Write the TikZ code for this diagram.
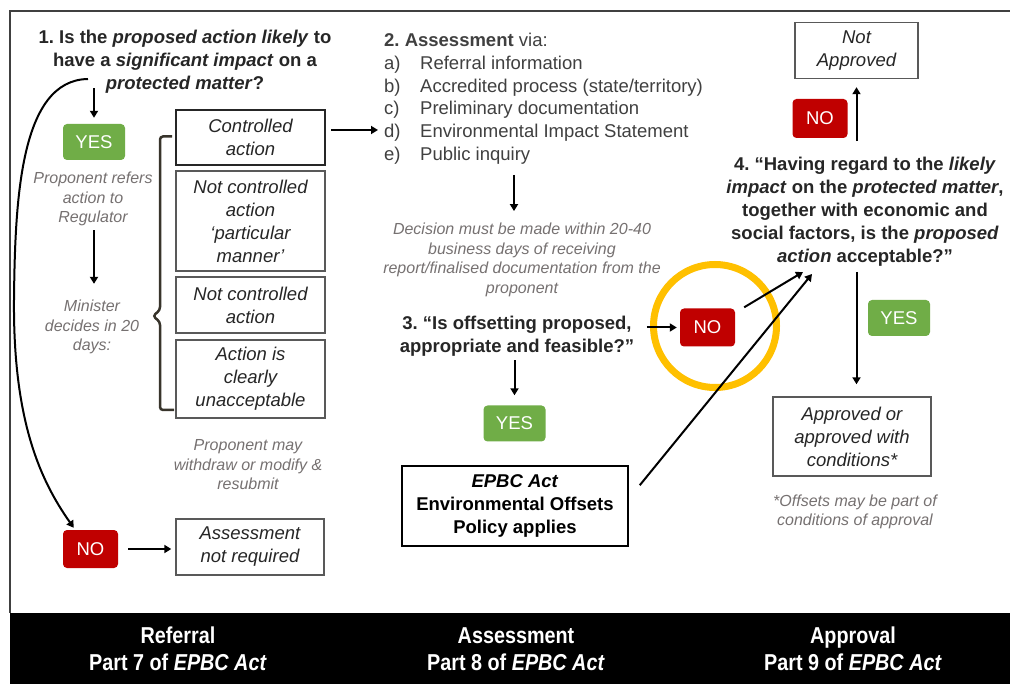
\documentclass[tikz,border=0pt]{standalone}
\usepackage{fontspec}
\setmainfont{Liberation Sans}
\newfontfamily\bandfont[FakeStretch=0.86]{Liberation Sans}
\usetikzlibrary{arrows.meta,calc}
\definecolor{ygreen}{HTML}{70AD47}
\definecolor{nred}{HTML}{C00000}
\definecolor{ringc}{HTML}{FFC000}
\definecolor{notegrey}{HTML}{767171}
\definecolor{txt}{HTML}{262626}
\definecolor{listgrey}{HTML}{404040}
\definecolor{boxline}{HTML}{595959}
\newcommand\FBig{\fontsize{18.5}{23}\selectfont}
\newcommand\FList{\fontsize{18.5}{22.7}\selectfont}
\newcommand\FNote{\fontsize{16}{19.5}\selectfont}
\newcommand\FBand{\fontsize{23}{27}\selectfont}
\frenchspacing
\begin{document}
\begin{tikzpicture}[x=1pt,y=-1pt,
  arr/.style={draw=black, line width=2pt, -{Triangle[length=7pt,width=8pt]}},
  box/.style={draw=boxline, line width=1.4pt, fill=white, align=center, text=txt, font=\FBig\itshape, inner sep=0pt},
  yesbox/.style={fill=ygreen, rounded corners=4pt, text=white, font=\FBig, minimum width=62pt, minimum height=36pt, inner sep=0pt},
  nobox/.style={yesbox, fill=nred, minimum width=55pt, minimum height=38pt},
  note/.style={text=notegrey, font=\FNote\itshape, align=center, inner sep=0pt},
  qtext/.style={text=txt, font=\FBig\bfseries, align=center, inner sep=0pt},
  band/.style={text=white, font=\FBand\bandfont\bfseries, align=center, inner sep=0pt},
]
\path[use as bounding box] (0,0) rectangle (1010,684);
\fill[white] (0,0) rectangle (1010,684);
% frame and band
\draw[line width=1.5pt, draw=black!75] (1010,11) -- (10,11) -- (10,613);
\fill[black] (10,613) rectangle (1010,684);
\node[band] (b1) at (178,649) {Referral\\Part 7 of \textit{EPBC Act}};
\node[band] (b2) at (516,649) {Assessment\\Part 8 of \textit{EPBC Act}};
\node[band] (b3) at (853,649) {Approval\\Part 9 of \textit{EPBC Act}};

% ---- column 1: referral
\node[qtext] (q1) at (185,61.5) {1. Is the \textit{proposed action likely} to\\have a \textit{significant impact} on a\\\textit{protected matter}?};
\node[yesbox] (yes1) at (94,142) {YES};
\node[note] (pref) at (93,199) {Proponent refers\\action to\\Regulator};
\node[note] (mini) at (92,327) {Minister\\decides in 20\\days:};
\node[box, draw=txt, line width=2pt, minimum width=149pt, minimum height=55pt] (ca) at (250.5,137.5) {Controlled\\action};
\node[box, minimum width=149pt, minimum height=100pt] (ncpm) at (250.5,221) {Not controlled\\action\\‘particular\\manner’};
\node[box, minimum width=149pt, minimum height=56pt] (nc) at (250.5,305) {Not controlled\\action};
\node[box, minimum width=149pt, minimum height=78pt] (unacc) at (250.5,379) {Action is\\clearly\\unacceptable};
\node[note] (withdraw) at (248,465) {Proponent may\\withdraw or modify \&\\resubmit};
\node[nobox] (no1) at (90.5,549) {NO};
\node[box, minimum width=148pt, minimum height=56pt] (anr) at (250,547) {Assessment\\not required};

\draw[arr] ($(yes1.north |- q1.south)+(0,-5)$) -- ($(yes1.north)+(0,-6)$);
\draw[arr] ($(pref.south -| yes1.south)+(0,4)$) -- ($(mini.north -| yes1.south)+(0,-16)$);
\draw[line width=2.5pt, draw=black!80!olive, rounded corners=3pt]
  (ca.west) ++(-3,-1) -- (160,136.5) -- (160,310) -- (153,316) -- (160,322) -- (160,410) -- (174,410);
\coordinate (cs) at (88,79);
\draw[arr] (cs) .. controls (20,80) and (15,200) .. (14,300)
  .. controls (13,420) and (40,480) .. ($(no1.north west)+(11,-2)$);
\draw[arr, shorten <=10pt, shorten >=4pt] (no1.east) -- (no1.east -| anr.west);

% ---- column 2: assessment
\node[anchor=north west, align=left, text=listgrey, font=\FList, inner sep=0pt] (assess) at (384,33)
  {\textbf{2. Assessment} via:\\
   \makebox[36pt][l]{a)}Referral information\\
   \makebox[36pt][l]{b)}Accredited process (state/territory)\\
   \makebox[36pt][l]{c)}Preliminary documentation\\
   \makebox[36pt][l]{d)}Environmental Impact Statement\\
   \makebox[36pt][l]{e)}Public inquiry};
\coordinate (dpt) at (378,130);
\draw[arr, shorten <=5pt] (ca.east |- dpt) -- (dpt);
\node[note] (dec) at (522,260) {Decision must be made within 20-40\\business days of receiving\\report/finalised documentation from the\\proponent};
\coordinate (a2s) at (514,175);
\draw[arr] (a2s) -- ($(a2s |- dec.north)+(0,-12)$);
\node[qtext] (q3) at (517,336) {3. “Is offsetting proposed,\\appropriate and feasible?”};
\node[yesbox] (yes3) at (514.5,423.5) {YES};
\draw[arr, shorten <=4pt] (q3.south -| yes3.north) -- ($(yes3.north)+(0,-10)$);
\node[draw=black, line width=1.5pt, fill=white, minimum width=226pt, minimum height=80pt, inner sep=0pt,
  align=center, text=black, font=\FBig\bfseries] (epbc) at (515,506) {\textit{EPBC Act}\\Environmental Offsets\\Policy applies};
\node[nobox] (no2) at (707.5,327.5) {NO};
\draw[ringc, line width=7pt] (715,326) circle[radius=61.5];
\draw[arr, shorten >=3pt] ($(no2.west)+(-33,0)$) -- (no2.west);

% ---- column 3: approval
\node[box, minimum width=123pt, minimum height=56pt] (nap) at (856.5,50.5) {Not\\Approved};
\node[nobox, minimum height=39pt] (no3) at (820,118.5) {NO};
\node[qtext] (q4) at (865,212) {4. “Having regard to the \textit{likely}\\\textit{impact} on the \textit{protected matter},\\together with economic and\\social factors, is the \textit{proposed}\\\textit{action} acceptable?”};
\draw[arr] ($(q4.north -| nap.south)+(0,-16)$) -- ($(nap.south)+(0,8)$);
\node[yesbox] (yes4) at (899,318) {YES};
\node[box, minimum width=158pt, minimum height=79pt] (appr) at (852,436.5) {Approved or\\approved with\\conditions*};
\draw[arr] ($(q4.south -| nap.south)+(0,5)$) -- ($(appr.north -| nap.south)+(0,-12)$);
\node[note] (offn) at (855,512) {*Offsets may be part of\\conditions of approval};
\coordinate (q4a) at (803,272);
\coordinate (q4b) at (812,274);
\draw[arr] ($(no2.north east)+(9,-1)$) -- (q4a);
\draw[arr] ($(epbc.north east)+(11,20)$) -- (q4b);
\end{tikzpicture}
\end{document}
